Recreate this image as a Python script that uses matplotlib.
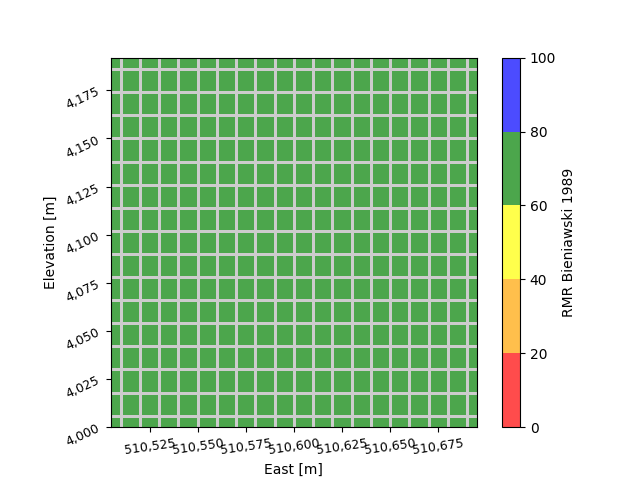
import numpy as np
import matplotlib
matplotlib.use("Agg")
import matplotlib.pyplot as plt
from matplotlib.colors import ListedColormap, BoundaryNorm, to_rgba
from matplotlib.ticker import FuncFormatter

# Block centres (m)
east = [510505, 510515, 510525, 510535, 510545, 510555, 510565, 510575, 510585, 510595,
        510605, 510615, 510625, 510635, 510645, 510655, 510665, 510675, 510685, 510695]
elev = [4000, 4012, 4024, 4036, 4048, 4060, 4072, 4084, 4096, 4108,
        4120, 4132, 4144, 4156, 4168, 4180, 4192]
# RMR values (all blocks in the 60-80 class)
rmr = [[70] * len(east) for _ in elev]

class_bounds = [0, 20, 40, 60, 80, 100]
class_colors = ['red', 'orange', 'yellow', 'green', 'blue']

cmap = ListedColormap([to_rgba(c, 0.7) for c in class_colors])
norm = BoundaryNorm(class_bounds, cmap.N)

fig, ax = plt.subplots(figsize=(6.4, 4.8), dpi=100)
mesh = ax.pcolormesh(east, elev, np.array(rmr), cmap=cmap, norm=norm,
                     shading='nearest', edgecolors='#cccccc',
                     linewidth=0.8)
ax.set_xlim(min(east), max(east))
ax.set_ylim(min(elev), max(elev))
ax.set_aspect('equal')

fmt = FuncFormatter(lambda v, p: f"{v:,.0f}")
ax.xaxis.set_major_formatter(fmt)
ax.yaxis.set_major_formatter(fmt)
ax.tick_params(axis='both', labelsize=9)
plt.setp(ax.get_xticklabels(), rotation=8)
plt.setp(ax.get_yticklabels(), rotation=25)
ax.set_xlabel('East [m]')
ax.set_ylabel('Elevation [m]')

cb = fig.colorbar(mesh, ax=ax, ticks=class_bounds)
cb.set_label('RMR Bieniawski 1989')

fig.savefig('out.png', dpi=100)
